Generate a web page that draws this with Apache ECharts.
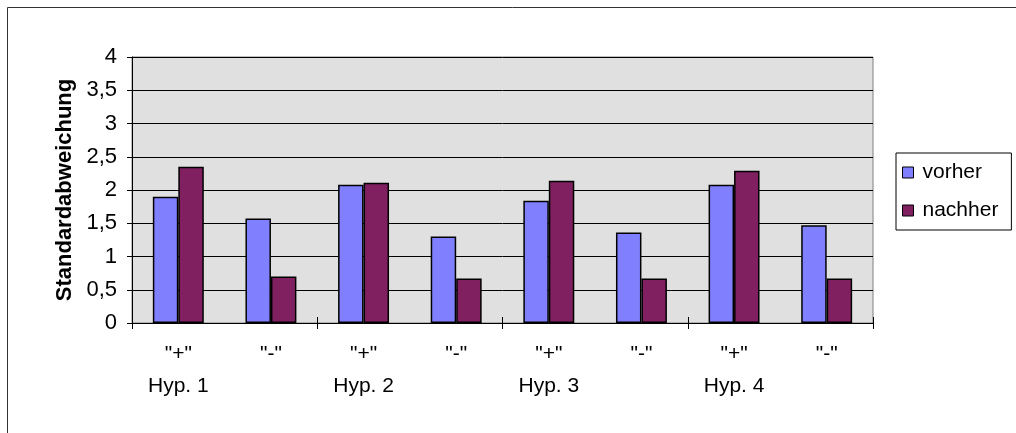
<!DOCTYPE html>
<html>
<head>
<meta charset="utf-8">
<script src="https://cdn.jsdelivr.net/npm/echarts@6/dist/echarts.min.js"></script>
<style>
  html, body { margin: 0; padding: 0; background: #fff; }
  #chart { width: 1016px; height: 433px; }
</style>
</head>
<body>
<div id="chart"></div>
<script>
// Bar groups: sign of the effect within each hypothesis
const categories = ['"+"', '"-"', '"+"', '"-"', '"+"', '"-"', '"+"', '"-"'];
// Hypothesis label shown under the first bar group of each pair
const groupLabels = ['Hyp. 1', '', 'Hyp. 2', '', 'Hyp. 3', '', 'Hyp. 4', ''];
const vorher = [1.90, 1.57, 2.08, 1.30, 1.84, 1.36, 2.08, 1.47];
const nachher = [2.35, 0.70, 2.11, 0.67, 2.14, 0.67, 2.29, 0.67];
const yTicks = [0, 0.5, 1, 1.5, 2, 2.5, 3, 3.5, 4];

const FONT = '"Liberation Sans", Arial, sans-serif';
const chart = echarts.init(document.getElementById('chart'), null, { renderer: 'canvas' });

const everyOther = (idx) => idx % 2 === 0;

chart.setOption({
  animation: false,
  backgroundColor: '#ffffff',
  textStyle: { fontFamily: FONT },
  graphic: [{
    type: 'rect',
    shape: { x: 7.5, y: 7.5, width: 1200, height: 600 },
    style: { fill: 'none', stroke: '#333333', lineWidth: 1 },
    silent: true
  }],
  grid: {
    left: 132, right: 143, top: 57, bottom: 110,
    show: true,
    backgroundColor: '#e0e0e0',
    borderColor: '#808080',
    borderWidth: 1
  },
  legend: {
    orient: 'vertical',
    left: 896, top: 153,
    padding: [9, 13, 9, 6],
    itemGap: 17,
    itemWidth: 11, itemHeight: 11,
    icon: 'rect',
    backgroundColor: '#ffffff',
    borderColor: '#000000',
    borderWidth: 1,
    borderRadius: 0,
    textStyle: { fontFamily: FONT, fontSize: 21, color: '#000', padding: [0, 0, 0, 4] },
    itemStyle: { borderColor: '#000', borderWidth: 1 },
    data: ['vorher', 'nachher']
  },
  xAxis: [{
    type: 'category',
    data: categories,
    boundaryGap: true,
    axisLine: { lineStyle: { color: '#000', width: 1 } },
    axisTick: { show: true, interval: everyOther, length: 6, lineStyle: { color: '#000' } },
    axisLabel: {
      interval: 0,
      margin: 15,
      fontFamily: FONT,
      fontSize: 21,
      lineHeight: 32,
      color: '#000',
      verticalAlign: 'top',
      formatter: (v, i) => groupLabels[i] ? v + '\n' + groupLabels[i] : v
    },
    splitLine: { show: false }
  }, {
    // second copy of the category axis carries the upward half of the crossing ticks
    type: 'category',
    data: categories,
    position: 'bottom',
    boundaryGap: true,
    axisLine: { show: false },
    axisTick: { show: true, inside: true, interval: everyOther, length: 6, lineStyle: { color: '#000' } },
    axisLabel: { show: false },
    splitLine: { show: false }
  }],
  yAxis: {
    type: 'value',
    min: yTicks[0],
    max: yTicks[yTicks.length - 1],
    interval: 0.5,
    name: 'Standardabweichung',
    nameLocation: 'middle',
    nameGap: 54,
    nameTextStyle: { fontFamily: FONT, fontSize: 22, fontWeight: 'bold', color: '#000' },
    axisLine: { show: true, lineStyle: { color: '#000', width: 1 } },
    axisTick: { show: true, length: 5, lineStyle: { color: '#000' } },
    axisLabel: {
      margin: 15,
      fontFamily: FONT,
      fontSize: 22,
      color: '#000',
      formatter: (v) => String(v).replace('.', ',')
    },
    splitLine: { show: true, lineStyle: { color: '#000', width: 1 } }
  },
  series: [{
    name: 'vorher',
    type: 'bar',
    data: vorher,
    barGap: '0%',
    barCategoryGap: '45%',
    itemStyle: { color: '#8080ff', borderColor: '#000', borderWidth: 1.5 }
  }, {
    name: 'nachher',
    type: 'bar',
    data: nachher,
    barGap: '0%',
    barCategoryGap: '45%',
    itemStyle: { color: '#802060', borderColor: '#000', borderWidth: 1.5 }
  }]
});
</script>
</body>
</html>
